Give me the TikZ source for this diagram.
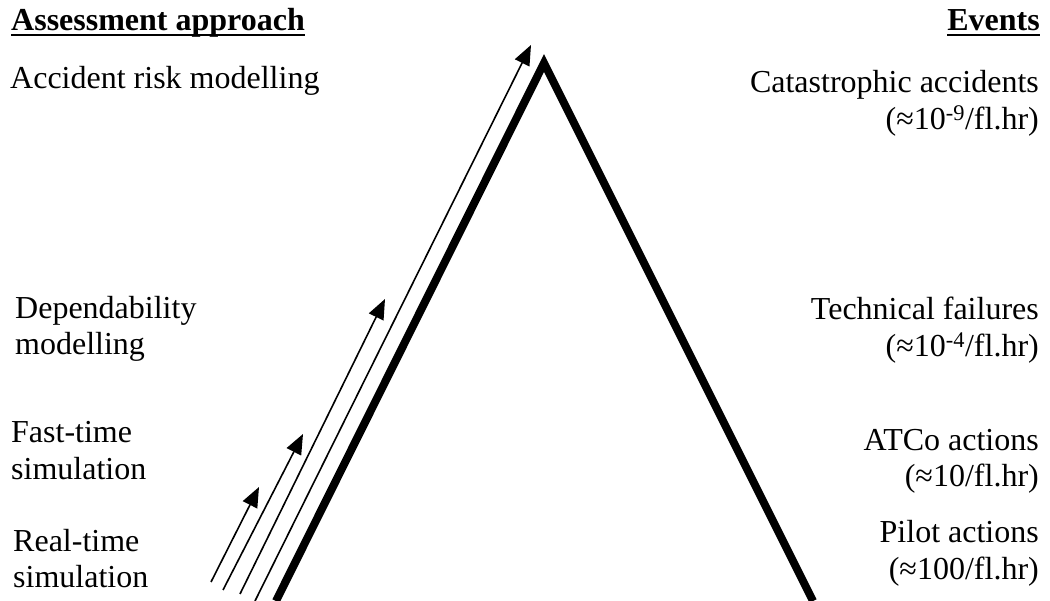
\documentclass[tikz,border=0pt]{standalone}
\usepackage{fontspec}
\setmainfont{Liberation Serif}
\usetikzlibrary{arrows.meta}
\tikzset{
  lbl/.style={inner sep=0pt, font=\fontsize{32}{38}\selectfont},
  ll/.style={lbl, anchor=base west},
  rl/.style={lbl, anchor=base east},
  thick line/.style={line width=8pt, line join=miter},
  approach/.style={line width=1.6pt, -{Triangle[length=20pt,width=16pt]}},
  uline/.style={line width=2.6pt}
}
\begin{document}
\begin{tikzpicture}[x=1pt,y=-1pt]
\useasboundingbox (0,0) rectangle (1050,601);
% headings
\node[ll, font=\fontsize{32}{38}\selectfont\bfseries] (hA) at (11,31) {Assessment approach};
\node[rl, font=\fontsize{32}{38}\selectfont\bfseries] (hE) at (1040,31) {Events};
\draw[uline] ([yshift=-4pt]hA.base west) -- ([yshift=-4pt]hA.base east);
\draw[uline] ([yshift=-4pt]hE.base west) -- ([yshift=-4pt]hE.base east);
% left labels
\node[ll] (arm) at (10,89) {Accident risk modelling};
\node[ll] (dep1) at (15,319) {Dependability};
\node[ll] (dep2) at (15,355) {modelling};
\node[ll] (fts1) at (11,443) {Fast-time};
\node[ll] (fts2) at (11,479) {simulation};
\node[ll] (rts1) at (13,551) {Real-time};
\node[ll] (rts2) at (13,587) {simulation};
% right labels
\node[rl] (cat1) at (1039,93) {Catastrophic accidents};
\node[rl] (cat2) at (1039,130) {(≈10\textsuperscript{-9}/fl.hr)};
\node[rl] (tec1) at (1039,320) {Technical failures};
\node[rl] (tec2) at (1039,357) {(≈10\textsuperscript{-4}/fl.hr)};
\node[rl] (atc1) at (1039,450) {ATCo actions};
\node[rl] (atc2) at (1039,486) {(≈10/fl.hr)};
\node[rl] (pil1) at (1039,542) {Pilot actions};
\node[rl] (pil2) at (1039,579) {(≈100/fl.hr)};
% triangle
\coordinate (lf) at (276,601);
\coordinate (apex) at (544,63);
\coordinate (rf) at (813,601);
\draw[thick line] (lf) -- (apex) -- (rf);
% arrows
\coordinate (a1s) at (211,582); \coordinate (a1e) at (259,487);
\coordinate (a2s) at (223,590); \coordinate (a2e) at (303,434);
\coordinate (a3s) at (240,594); \coordinate (a3e) at (385,299);
\coordinate (a4s) at (255,601); \coordinate (a4e) at (531,45);
\draw[approach] (a1s) -- (a1e);
\draw[approach] (a2s) -- (a2e);
\draw[approach] (a3s) -- (a3e);
\draw[approach] (a4s) -- (a4e);
\end{tikzpicture}
\end{document}
